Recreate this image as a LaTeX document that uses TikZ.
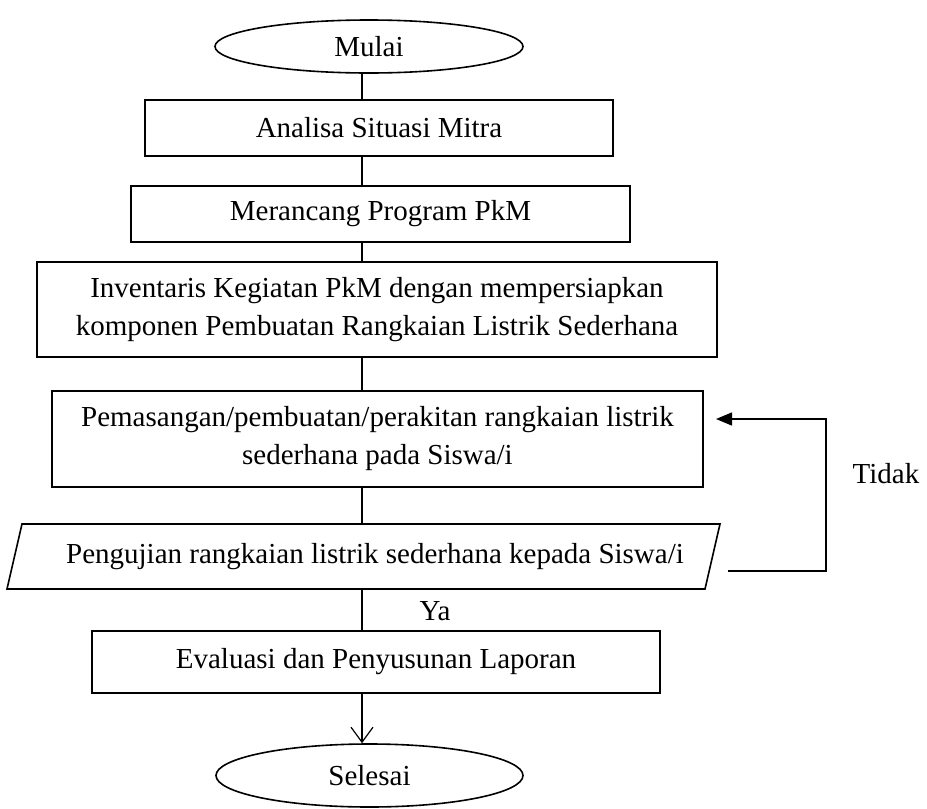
\documentclass[tikz,border=0pt]{standalone}
\usepackage{fontspec}
\setmainfont{Liberation Serif}
\usetikzlibrary{shapes.geometric,arrows.meta}
\begin{document}
\begin{tikzpicture}[x=1pt,y=-1pt,
  font=\fontsize{29}{38}\selectfont,
  box/.style={draw,line width=1.6pt,inner sep=0pt,align=center},
  term/.style={draw,ellipse,line width=1.6pt,inner sep=0pt},
  conn/.style={line width=1.2pt},
  lbl/.style={inner sep=0pt}]
\useasboundingbox (0,0) rectangle (927,809);
\node[term,minimum width=308,minimum height=53] (start) at (369,46.5) {Mulai};
\node[box,minimum width=468,minimum height=56] (b1) at (379,128) {Analisa Situasi Mitra};
\node[box,minimum width=499,minimum height=56] (b2) at (380.5,214) {Merancang Program PkM};
\node[box,minimum width=680,minimum height=95] (b3) at (377,309.5) {Inventaris Kegiatan PkM dengan mempersiapkan\\komponen Pembuatan Rangkaian Listrik Sederhana};
\node[box,minimum width=651,minimum height=96] (b4) at (377.5,439) {Pemasangan/pembuatan/perakitan rangkaian listrik\\sederhana pada Siswa/i};
\coordinate (ptl) at (22,524);
\coordinate (ptr) at (720,524);
\coordinate (pbr) at (705,589);
\coordinate (pbl) at (7,589);
\draw[line width=1.6pt] (ptl) -- (ptr) -- (pbr) -- (pbl) -- cycle;
\node[lbl] (p) at (375,556.5) {Pengujian rangkaian listrik sederhana kepada Siswa/i};
\node[box,minimum width=568,minimum height=62] (b5) at (376,662) {Evaluasi dan Penyusunan Laporan};
\node[term,minimum width=307,minimum height=63] (end) at (369.5,775.5) {Selesai};
\coordinate (cx) at (362,0);
\coordinate (pt) at (362,524);
\coordinate (pb) at (362,589);
\draw[conn] (start.south -| cx) -- (b1.north -| cx);
\draw[conn] (b1.south -| cx) -- (b2.north -| cx);
\draw[conn] (b2.south -| cx) -- (b3.north -| cx);
\draw[conn] (b3.south -| cx) -- (b4.north -| cx);
\draw[conn] (b4.south -| cx) -- (pt);
\draw[conn] (pb) -- (b5.north -| cx);
\node[lbl] (ya) at (435,611) {Ya};
\draw[conn,-{Straight Barb[length=15pt,width=22pt,line width=1.2pt]}] (b5.south -| cx) -- (end.north -| cx);
\coordinate (fb1) at (728,571);
\coordinate (fb2) at (826,571);
\coordinate (fb3) at (826,419);
\coordinate (fb4) at (716,419);
\draw[line width=1.5pt,-{Triangle[length=16pt,width=13pt]}] (fb1) -- (fb2) -- (fb3) -- (fb4);
\node[lbl] (tidak) at (886,474) {Tidak};
\end{tikzpicture}
\end{document}
